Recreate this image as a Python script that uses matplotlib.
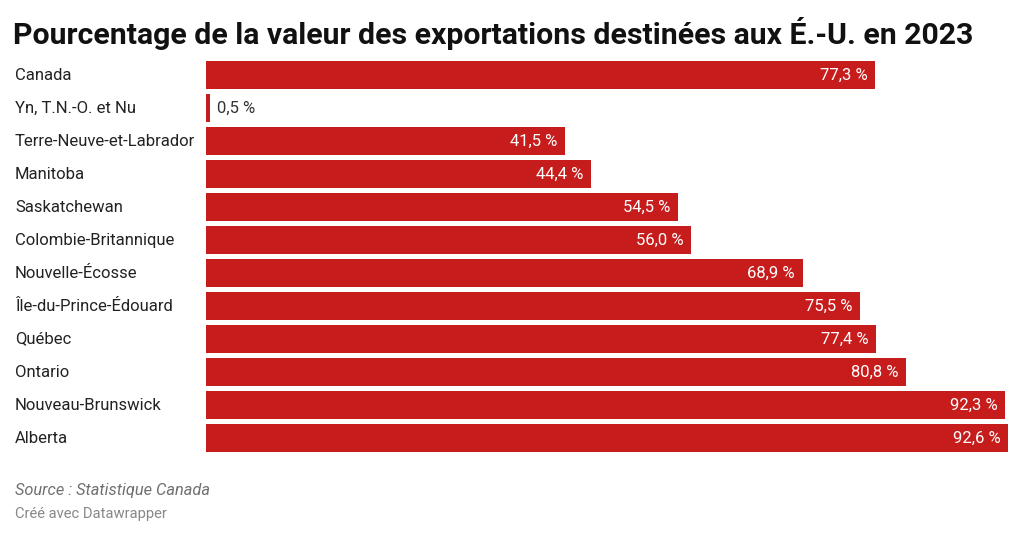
import matplotlib.pyplot as plt
import matplotlib.transforms as transforms

plt.rcParams['font.family'] = ['Roboto', 'DejaVu Sans']

# données
provinces = ['Canada', 'Yn, T.N.-O. et Nu', 'Terre-Neuve-et-Labrador', 'Manitoba',
             'Saskatchewan', 'Colombie-Britannique', 'Nouvelle-Écosse',
             'Île-du-Prince-Édouard', 'Québec', 'Ontario', 'Nouveau-Brunswick', 'Alberta']
valeurs = [77.3, 0.5, 41.5, 44.4, 54.5, 56.0, 68.9, 75.5, 77.4, 80.8, 92.3, 92.6]

titre = 'Pourcentage de la valeur des exportations destinées aux É.-U. en 2023'
source = 'Source : Statistique Canada'
credit = 'Créé avec Datawrapper'

rouge = '#c71c1c'

fig = plt.figure(figsize=(10.24, 5.37), dpi=100)
ax = fig.add_axes([206 / 1024, 82.5 / 537, 802 / 1024, 396 / 537])

y = list(range(len(provinces)))
ax.barh(y, valeurs, height=0.85, color=rouge)
ax.set_xlim(0, max(valeurs))
ax.set_ylim(len(provinces) - 0.5, -0.5)
ax.axis('off')

# étiquettes de valeur
for i, v in enumerate(valeurs):
    txt = f'{v:.1f}'.replace('.', ',') + ' %'
    if v < 10:
        ax.annotate(txt, (v, i), xytext=(5, 0), textcoords='offset points',
                    ha='left', va='center', fontsize=12, color='#333333')
    else:
        ax.annotate(txt, (v, i), xytext=(-5.5, 0), textcoords='offset points',
                    ha='right', va='center', fontsize=12, color='white')

# noms des provinces
trans = transforms.blended_transform_factory(fig.transFigure, ax.transData)
for i, p in enumerate(provinces):
    fig.text(15 / 1024, i, p, transform=trans, ha='left', va='center',
             fontsize=12, color='#222222')

fig.text(13 / 1024, 1 - 33 / 537, titre, ha='left', va='center',
         fontsize=21.8, fontweight='bold', color='#111111')
fig.text(15 / 1024, 1 - 490 / 537, source, ha='left', va='center',
         fontsize=11.8, style='italic', color='#707070')
fig.text(15 / 1024, 1 - 514 / 537, credit, ha='left', va='center',
         fontsize=10.6, color='#888888')

fig.savefig('out.png', dpi=100)
